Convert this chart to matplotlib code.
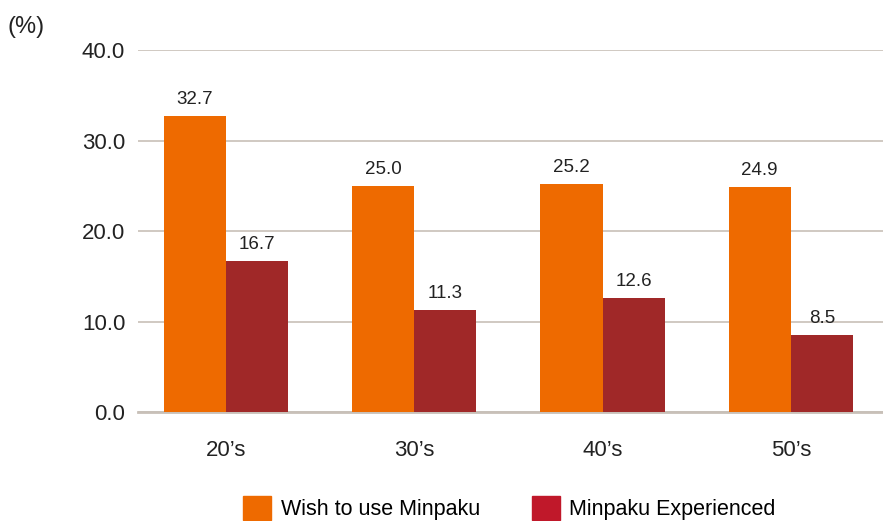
import matplotlib.pyplot as plt
import numpy as np
from matplotlib.patches import Patch

plt.rcParams['font.family'] = ['Liberation Sans', 'DejaVu Sans']

categories = ["20\u2019s", "30\u2019s", "40\u2019s", "50\u2019s"]
wish = [32.7, 25.0, 25.2, 24.9]
experienced = [16.7, 11.3, 12.6, 8.5]
yticks = [0, 10, 20, 30, 40]

orange = '#EE6A00'
red_bar = '#A02828'
red_legend = '#C0182A'
grid_color = '#C8C0B8'

fig = plt.figure(figsize=(8.83, 5.21), dpi=100)
ax = fig.add_axes([0.156, 0.209, 0.844, 0.695])

x = np.arange(len(categories))
w = 0.33
ax.bar(x - w / 2, wish, width=w, color=orange, zorder=3)
ax.bar(x + w / 2, experienced, width=w, color=red_bar, zorder=3)

for xi, v in zip(x - w / 2, wish):
    ax.text(xi, v + 0.9, f"{v:.1f}", ha='center', va='bottom', fontsize=13.5, color='#222222')
for xi, v in zip(x + w / 2, experienced):
    ax.text(xi, v + 0.9, f"{v:.1f}", ha='center', va='bottom', fontsize=13.5, color='#222222')

ax.set_xlim(-0.47, 3.49)
ax.set_ylim(0, 40)
ax.set_yticks(yticks)
ax.set_yticklabels([f"{t:.1f}" for t in yticks], fontsize=16)
ax.set_xticks(x)
ax.set_xticklabels(categories, fontsize=16)
ax.tick_params(axis='both', length=0, colors='#222222')
ax.tick_params(axis='y', pad=9)
ax.tick_params(axis='x', pad=20)

ax.grid(axis='y', color=grid_color, linewidth=1.2, zorder=0)
for s in ['top', 'right', 'left']:
    ax.spines[s].set_visible(False)
ax.spines['bottom'].set_color(grid_color)
ax.spines['bottom'].set_linewidth(2)

fig.text(0.009, 0.937, "(%)", fontsize=17, color='#222222')

handles = [Patch(color=orange, label='Wish to use Minpaku'),
           Patch(color=red_legend, label='Minpaku Experienced')]
fig.legend(handles=handles, loc='lower center', bbox_to_anchor=(0.577, -0.036), ncol=2,
           frameon=False, fontsize=15.5, handlelength=1.3, handleheight=1.3,
           columnspacing=2.4, handletextpad=0.45)

fig.savefig('out.png', dpi=100)
